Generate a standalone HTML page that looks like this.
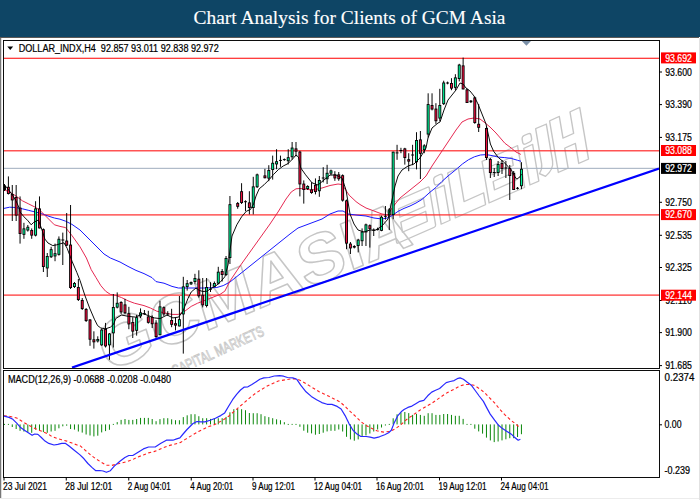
<!DOCTYPE html><html><head><meta charset="utf-8"><style>html,body{margin:0;padding:0;background:#fff;width:700px;height:500px;overflow:hidden}svg{display:block}</style></head><body>
<svg width="700" height="500" viewBox="0 0 700 500" font-family="Liberation Sans, sans-serif">
<rect x="0" y="0" width="700" height="500" fill="#fff"/>
<rect x="0" y="0" width="700" height="37" fill="#0e4565"/>
<rect x="0" y="37" width="699" height="1" fill="#5c5a58"/>
<text x="193.5" y="24.2" fill="#fff" stroke="#fff" stroke-width="0.12" font-family="Liberation Serif, serif" font-size="19" textLength="312" lengthAdjust="spacingAndGlyphs">Chart Analysis for Clients of GCM Asia</text>
<rect x="0" y="38" width="1" height="460" fill="#777"/>
<rect x="1" y="38" width="1" height="460" fill="#ddd"/>
<rect x="699" y="38" width="1" height="462" fill="#e2e2e2"/>
<rect x="0" y="498" width="699" height="1" fill="#ececec"/>
<defs><clipPath id="cm"><rect x="4" y="41" width="655" height="327"/></clipPath><clipPath id="cd"><rect x="4" y="371" width="655" height="106"/></clipPath></defs>
<g clip-path="url(#cm)">
<g transform="translate(173.6,368) rotate(-24.5)" fill="none" stroke="#c6c6c6" stroke-width="1.5" stroke-linejoin="round">
<text transform="rotate(1.8,180,-40) skewX(-6)" x="-64" y="-16" font-size="68" font-weight="bold" textLength="334" lengthAdjust="spacingAndGlyphs">GCMASIA</text>
<g transform="rotate(0.7) translate(254,-22) scale(0.97,0.82) skewX(-12)"><rect x="0" y="-50" width="44" height="48" rx="2"/><rect x="8" y="-40" width="28" height="10"/><rect x="8" y="-24" width="28" height="12"/><rect x="50" y="-58" width="10" height="10" rx="3"/><rect x="50" y="-44" width="10" height="42"/><path d="M66,-56 h12 v40 h22 v14 h-34 z"/><rect x="104" y="-52" width="40" height="50"/><rect x="112" y="-42" width="24" height="10"/><rect x="112" y="-24" width="24" height="10"/><rect x="150" y="-60" width="10" height="10" rx="3"/><rect x="150" y="-46" width="10" height="44"/><path d="M166,-62 h12 v44 q0,10 -10,14 l-6,-6 q4,-4 4,-10 z"/><path d="M182,-64 h11 v26 h12 v-26 h11 v62 h-11 v-24 h-12 v24 h-11 z"/></g>
<text x="-31" y="8" font-size="15" textLength="128" lengthAdjust="spacingAndGlyphs" stroke-width="0.9" stroke="#c8c8c8">GCM CAPITAL MARKETS</text>
</g></g>
<rect x="4" y="57.7" width="655" height="1.2" fill="#ff2a2a"/>
<rect x="4" y="150.2" width="655" height="1.2" fill="#ff2a2a"/>
<rect x="4" y="214.3" width="655" height="1.2" fill="#ff2a2a"/>
<rect x="4" y="294.5" width="655" height="1.2" fill="#ff2a2a"/>
<rect x="4" y="167.8" width="655" height="1.1" fill="#a8b4c4"/>
<g clip-path="url(#cm)" fill="none" stroke-linejoin="round">
<polyline points="3.5,208.5 9.6,207.2 16.0,207.5 22.4,208.8 28.8,210.4 35.2,212.0 41.6,213.6 48.0,216.0 54.4,218.0 60.0,219.2 65.6,221.2 72.0,224.4 80.0,230.0 88.0,238.0 96.0,246.0 104.0,254.0 110.4,258.0 120.0,262.0 128.0,266.4 136.0,270.4 144.0,273.6 152.0,277.6 156.0,281.6 164.0,283.2 172.0,286.4 178.4,288.0 188.0,288.0 204.0,288.0 216.8,287.5 223.2,285.6 230.0,282.0 240.0,274.0 250.0,266.0 260.0,258.0 270.0,250.0 280.0,242.0 290.0,234.0 298.0,228.0 306.0,225.0 314.0,222.0 322.0,219.0 330.0,214.0 338.0,211.0 343.0,211.0 348.0,214.0 356.0,215.0 366.0,216.0 374.0,218.0 382.0,219.0 387.2,218.0 392.0,215.6 398.0,211.4 404.0,208.4 410.0,206.0 416.0,203.0 422.0,199.4 428.0,194.0 430.0,192.2 436.0,187.4 442.0,181.4 448.0,176.0 454.0,171.2 457.6,168.2 462.4,164.0 468.4,159.8 474.4,156.8 480.4,155.0 486.4,154.6 492.0,155.6 498.4,157.1 504.8,157.6 511.2,158.4 517.6,160.3 521.0,161.3" stroke="#1818ff" stroke-width="1"/>
<polyline points="3.5,189.6 9.6,192.0 16.0,196.0 22.4,200.8 28.8,204.0 35.2,207.2 40.0,210.4 44.8,215.2 49.6,220.0 54.4,224.8 60.0,226.4 65.6,227.6 72.0,235.6 80.0,246.8 86.4,258.0 91.2,269.6 96.0,277.6 100.8,285.6 105.6,291.2 110.4,294.4 115.2,295.2 121.6,297.6 128.0,300.8 134.4,303.2 144.0,305.6 150.4,308.0 156.8,311.2 164.0,312.8 172.0,314.4 178.4,314.4 184.8,311.2 191.2,306.4 197.6,303.2 204.0,300.8 212.0,297.6 220.0,294.4 224.8,291.2 230.0,281.0 240.0,266.0 250.0,252.0 260.0,238.0 270.0,224.0 278.0,212.0 286.0,199.0 291.2,192.0 296.0,188.8 300.0,188.5 306.0,189.0 310.8,190.0 315.6,189.5 322.0,188.0 330.0,185.5 338.0,184.0 342.0,184.5 345.0,189.0 349.2,195.2 356.0,201.6 360.0,204.5 366.0,208.0 374.0,211.0 382.0,214.0 388.0,215.0 392.0,208.0 400.0,198.0 410.0,190.0 420.0,182.0 426.0,176.0 432.0,166.0 440.0,154.0 448.0,142.0 456.0,130.0 462.0,122.0 468.0,119.0 474.0,118.0 480.0,119.0 484.0,122.0 490.0,127.0 496.0,133.0 504.8,143.2 511.2,148.0 516.0,152.0 520.8,154.4" stroke="#e41c48" stroke-width="0.95"/>
</g>
<g clip-path="url(#cm)">
<rect x="4.01" y="184.0" width="0.97" height="7.0" fill="#000"/>
<rect x="3.04" y="185.5" width="2.92" height="4.5" fill="#000"/>
<rect x="7.90" y="176.4" width="0.97" height="18.1" fill="#000"/>
<rect x="6.93" y="186.8" width="2.92" height="7.2" fill="#000"/>
<rect x="7.79" y="187.7" width="1.2" height="5.4" fill="#ee1040"/>
<rect x="11.78" y="185.0" width="0.97" height="36.0" fill="#000"/>
<rect x="10.81" y="194.0" width="2.92" height="6.4" fill="#000"/>
<rect x="11.67" y="194.9" width="1.2" height="4.6" fill="#ee1040"/>
<rect x="15.67" y="185.0" width="0.97" height="36.0" fill="#000"/>
<rect x="14.70" y="197.0" width="2.92" height="18.6" fill="#000"/>
<rect x="15.56" y="197.9" width="1.2" height="16.8" fill="#ee1040"/>
<rect x="19.56" y="196.4" width="0.97" height="47.2" fill="#000"/>
<rect x="18.59" y="207.6" width="2.92" height="26.4" fill="#000"/>
<rect x="19.45" y="208.5" width="1.2" height="24.6" fill="#ee1040"/>
<rect x="23.44" y="222.8" width="0.97" height="16.0" fill="#000"/>
<rect x="22.47" y="228.4" width="2.92" height="6.4" fill="#000"/>
<rect x="23.33" y="229.3" width="1.2" height="4.6" fill="#00f59a"/>
<rect x="27.33" y="225.0" width="0.97" height="6.6" fill="#000"/>
<rect x="26.36" y="226.8" width="2.92" height="3.7" fill="#000"/>
<rect x="27.22" y="227.7" width="1.2" height="1.9" fill="#00f59a"/>
<rect x="31.22" y="228.4" width="0.97" height="10.4" fill="#000"/>
<rect x="30.25" y="230.0" width="2.92" height="5.6" fill="#000"/>
<rect x="31.11" y="230.9" width="1.2" height="3.8" fill="#ee1040"/>
<rect x="35.10" y="201.2" width="0.97" height="35.2" fill="#000"/>
<rect x="34.13" y="208.4" width="2.92" height="27.2" fill="#000"/>
<rect x="34.99" y="209.3" width="1.2" height="25.4" fill="#00f59a"/>
<rect x="38.99" y="196.4" width="0.97" height="32.0" fill="#000"/>
<rect x="38.02" y="208.4" width="2.92" height="20.0" fill="#000"/>
<rect x="38.88" y="209.3" width="1.2" height="18.2" fill="#ee1040"/>
<rect x="42.88" y="228.4" width="0.97" height="43.6" fill="#000"/>
<rect x="41.91" y="229.2" width="2.92" height="37.8" fill="#000"/>
<rect x="42.77" y="230.1" width="1.2" height="36.0" fill="#ee1040"/>
<rect x="46.76" y="253.0" width="0.97" height="24.0" fill="#000"/>
<rect x="45.79" y="256.0" width="2.92" height="12.4" fill="#000"/>
<rect x="46.65" y="256.9" width="1.2" height="10.6" fill="#00f59a"/>
<rect x="50.65" y="246.8" width="0.97" height="11.2" fill="#000"/>
<rect x="49.68" y="249.2" width="2.92" height="8.0" fill="#000"/>
<rect x="50.54" y="250.1" width="1.2" height="6.2" fill="#00f59a"/>
<rect x="54.54" y="243.6" width="0.97" height="17.6" fill="#000"/>
<rect x="53.57" y="253.2" width="2.92" height="3.2" fill="#000"/>
<rect x="54.43" y="254.1" width="1.2" height="1.4" fill="#00f59a"/>
<rect x="58.42" y="236.4" width="0.97" height="19.2" fill="#000"/>
<rect x="57.45" y="238.8" width="2.92" height="16.0" fill="#000"/>
<rect x="58.31" y="239.7" width="1.2" height="14.2" fill="#00f59a"/>
<rect x="62.31" y="232.6" width="0.97" height="32.4" fill="#000"/>
<rect x="61.34" y="239.5" width="2.92" height="1" fill="#000"/>
<rect x="66.20" y="213.0" width="0.97" height="33.0" fill="#000"/>
<rect x="65.23" y="240.6" width="2.92" height="5.0" fill="#000"/>
<rect x="66.09" y="241.5" width="1.2" height="3.2" fill="#ee1040"/>
<rect x="70.08" y="205.0" width="0.97" height="84.0" fill="#000"/>
<rect x="69.11" y="244.6" width="2.92" height="43.4" fill="#000"/>
<rect x="69.97" y="245.5" width="1.2" height="41.6" fill="#ee1040"/>
<rect x="73.97" y="282.0" width="0.97" height="6.0" fill="#000"/>
<rect x="73.00" y="283.0" width="2.92" height="4.0" fill="#000"/>
<rect x="73.86" y="283.9" width="1.2" height="2.2" fill="#00f59a"/>
<rect x="77.86" y="279.0" width="0.97" height="22.0" fill="#000"/>
<rect x="76.89" y="287.0" width="2.92" height="13.0" fill="#000"/>
<rect x="77.75" y="287.9" width="1.2" height="11.2" fill="#ee1040"/>
<rect x="81.74" y="298.0" width="0.97" height="12.0" fill="#000"/>
<rect x="80.77" y="300.0" width="2.92" height="9.0" fill="#000"/>
<rect x="81.63" y="300.9" width="1.2" height="7.2" fill="#ee1040"/>
<rect x="85.63" y="308.0" width="0.97" height="14.0" fill="#000"/>
<rect x="84.66" y="309.0" width="2.92" height="12.0" fill="#000"/>
<rect x="85.52" y="309.9" width="1.2" height="10.2" fill="#ee1040"/>
<rect x="89.52" y="319.0" width="0.97" height="26.8" fill="#000"/>
<rect x="88.55" y="319.5" width="2.92" height="20.2" fill="#000"/>
<rect x="89.41" y="320.4" width="1.2" height="18.4" fill="#ee1040"/>
<rect x="93.40" y="331.3" width="0.97" height="17.3" fill="#000"/>
<rect x="92.43" y="339.3" width="2.92" height="3.0" fill="#000"/>
<rect x="93.29" y="340.2" width="1.2" height="1.2" fill="#ee1040"/>
<rect x="97.29" y="336.3" width="0.97" height="6.2" fill="#000"/>
<rect x="96.32" y="339.0" width="2.92" height="2.4" fill="#000"/>
<rect x="97.18" y="339.9" width="1.2" height="0.6" fill="#00f59a"/>
<rect x="101.18" y="328.5" width="0.97" height="17.3" fill="#000"/>
<rect x="100.21" y="329.6" width="2.92" height="15.7" fill="#000"/>
<rect x="101.07" y="330.5" width="1.2" height="13.9" fill="#00f59a"/>
<rect x="105.06" y="322.9" width="0.97" height="24.6" fill="#000"/>
<rect x="104.09" y="329.0" width="2.92" height="17.4" fill="#000"/>
<rect x="104.95" y="329.9" width="1.2" height="15.6" fill="#ee1040"/>
<rect x="108.95" y="333.0" width="0.97" height="26.8" fill="#000"/>
<rect x="107.98" y="333.5" width="2.92" height="11.8" fill="#000"/>
<rect x="108.84" y="334.4" width="1.2" height="10.0" fill="#00f59a"/>
<rect x="112.84" y="294.0" width="0.97" height="53.5" fill="#000"/>
<rect x="111.87" y="307.0" width="2.92" height="26.3" fill="#000"/>
<rect x="112.73" y="307.9" width="1.2" height="24.5" fill="#00f59a"/>
<rect x="116.72" y="292.4" width="0.97" height="16.0" fill="#000"/>
<rect x="115.75" y="302.8" width="2.92" height="4.8" fill="#000"/>
<rect x="116.61" y="303.7" width="1.2" height="3.0" fill="#00f59a"/>
<rect x="120.61" y="301.2" width="0.97" height="12.8" fill="#000"/>
<rect x="119.64" y="302.0" width="2.92" height="10.4" fill="#000"/>
<rect x="120.50" y="302.9" width="1.2" height="8.6" fill="#ee1040"/>
<rect x="124.50" y="298.8" width="0.97" height="15.2" fill="#000"/>
<rect x="123.53" y="304.4" width="2.92" height="8.8" fill="#000"/>
<rect x="124.39" y="305.3" width="1.2" height="7.0" fill="#ee1040"/>
<rect x="128.38" y="306.8" width="0.97" height="22.4" fill="#000"/>
<rect x="127.41" y="313.2" width="2.92" height="11.2" fill="#000"/>
<rect x="128.27" y="314.1" width="1.2" height="9.4" fill="#ee1040"/>
<rect x="132.27" y="317.2" width="0.97" height="20.8" fill="#000"/>
<rect x="131.30" y="322.0" width="2.92" height="9.6" fill="#000"/>
<rect x="132.16" y="322.9" width="1.2" height="7.8" fill="#ee1040"/>
<rect x="136.16" y="314.8" width="0.97" height="20.8" fill="#000"/>
<rect x="135.19" y="317.2" width="2.92" height="13.6" fill="#000"/>
<rect x="136.05" y="318.1" width="1.2" height="11.8" fill="#00f59a"/>
<rect x="140.04" y="308.4" width="0.97" height="9.6" fill="#000"/>
<rect x="139.07" y="312.4" width="2.92" height="4.0" fill="#000"/>
<rect x="139.93" y="313.3" width="1.2" height="2.2" fill="#00f59a"/>
<rect x="143.93" y="310.0" width="0.97" height="4.8" fill="#000"/>
<rect x="142.96" y="313.2" width="2.92" height="1" fill="#000"/>
<rect x="147.82" y="310.8" width="0.97" height="12.8" fill="#000"/>
<rect x="146.85" y="316.4" width="2.92" height="6.4" fill="#000"/>
<rect x="147.71" y="317.3" width="1.2" height="4.6" fill="#ee1040"/>
<rect x="151.70" y="315.4" width="0.97" height="12.6" fill="#000"/>
<rect x="150.73" y="317.0" width="2.92" height="7.2" fill="#000"/>
<rect x="151.59" y="317.9" width="1.2" height="5.4" fill="#ee1040"/>
<rect x="155.59" y="320.2" width="0.97" height="19.2" fill="#000"/>
<rect x="154.62" y="322.6" width="2.92" height="14.4" fill="#000"/>
<rect x="155.48" y="323.5" width="1.2" height="12.6" fill="#ee1040"/>
<rect x="159.48" y="300.8" width="0.97" height="34.4" fill="#000"/>
<rect x="158.51" y="306.4" width="2.92" height="28.8" fill="#000"/>
<rect x="159.37" y="307.3" width="1.2" height="27.0" fill="#00f59a"/>
<rect x="163.36" y="306.4" width="0.97" height="9.6" fill="#000"/>
<rect x="162.39" y="307.2" width="2.92" height="7.2" fill="#000"/>
<rect x="163.25" y="308.1" width="1.2" height="5.4" fill="#ee1040"/>
<rect x="167.25" y="311.2" width="0.97" height="4.8" fill="#000"/>
<rect x="166.28" y="313.5" width="2.92" height="1" fill="#000"/>
<rect x="171.14" y="308.8" width="0.97" height="18.4" fill="#000"/>
<rect x="170.17" y="320.0" width="2.92" height="4.8" fill="#000"/>
<rect x="171.03" y="320.9" width="1.2" height="3.0" fill="#ee1040"/>
<rect x="175.02" y="317.6" width="0.97" height="12.8" fill="#000"/>
<rect x="174.05" y="323.2" width="2.92" height="2.4" fill="#000"/>
<rect x="174.91" y="324.1" width="1.2" height="0.6" fill="#ee1040"/>
<rect x="178.91" y="296.0" width="0.97" height="30.4" fill="#000"/>
<rect x="177.94" y="319.2" width="2.92" height="7.2" fill="#000"/>
<rect x="178.80" y="320.1" width="1.2" height="5.4" fill="#00f59a"/>
<rect x="182.80" y="276.8" width="0.97" height="76.8" fill="#000"/>
<rect x="181.83" y="286.4" width="2.92" height="28.0" fill="#000"/>
<rect x="182.69" y="287.3" width="1.2" height="26.2" fill="#00f59a"/>
<rect x="186.68" y="280.0" width="0.97" height="10.6" fill="#000"/>
<rect x="185.71" y="283.2" width="2.92" height="3.8" fill="#000"/>
<rect x="186.57" y="284.1" width="1.2" height="2.0" fill="#00f59a"/>
<rect x="190.57" y="281.5" width="0.97" height="3.5" fill="#000"/>
<rect x="189.60" y="282.0" width="2.92" height="2.3" fill="#000"/>
<rect x="190.46" y="282.9" width="1.2" height="0.5" fill="#00f59a"/>
<rect x="194.46" y="273.8" width="0.97" height="10.5" fill="#000"/>
<rect x="193.49" y="278.0" width="2.92" height="4.0" fill="#000"/>
<rect x="194.35" y="278.9" width="1.2" height="2.2" fill="#00f59a"/>
<rect x="198.34" y="270.3" width="0.97" height="27.3" fill="#000"/>
<rect x="197.37" y="278.7" width="2.92" height="17.5" fill="#000"/>
<rect x="198.23" y="279.6" width="1.2" height="15.7" fill="#ee1040"/>
<rect x="202.23" y="278.0" width="0.97" height="29.4" fill="#000"/>
<rect x="201.26" y="294.8" width="2.92" height="10.5" fill="#000"/>
<rect x="202.12" y="295.7" width="1.2" height="8.7" fill="#ee1040"/>
<rect x="206.12" y="278.0" width="0.97" height="29.4" fill="#000"/>
<rect x="205.15" y="287.0" width="2.92" height="19.0" fill="#000"/>
<rect x="206.01" y="287.9" width="1.2" height="17.2" fill="#00f59a"/>
<rect x="210.01" y="282.2" width="0.97" height="9.8" fill="#000"/>
<rect x="209.04" y="288.7" width="2.92" height="1" fill="#000"/>
<rect x="213.89" y="281.5" width="0.97" height="5.5" fill="#000"/>
<rect x="212.92" y="283.0" width="2.92" height="3.7" fill="#000"/>
<rect x="213.78" y="283.9" width="1.2" height="1.9" fill="#00f59a"/>
<rect x="217.78" y="266.8" width="0.97" height="17.5" fill="#000"/>
<rect x="216.81" y="271.7" width="2.92" height="11.9" fill="#000"/>
<rect x="217.67" y="272.6" width="1.2" height="10.1" fill="#00f59a"/>
<rect x="221.67" y="269.0" width="0.97" height="12.5" fill="#000"/>
<rect x="220.70" y="271.0" width="2.92" height="4.0" fill="#000"/>
<rect x="221.56" y="271.9" width="1.2" height="2.2" fill="#ee1040"/>
<rect x="225.55" y="256.0" width="0.97" height="20.0" fill="#000"/>
<rect x="224.58" y="258.0" width="2.92" height="17.0" fill="#000"/>
<rect x="225.44" y="258.9" width="1.2" height="15.2" fill="#00f59a"/>
<rect x="229.44" y="196.0" width="0.97" height="68.0" fill="#000"/>
<rect x="228.47" y="204.2" width="2.92" height="53.8" fill="#000"/>
<rect x="229.33" y="205.1" width="1.2" height="52.0" fill="#00f59a"/>
<rect x="237.21" y="202.0" width="0.97" height="6.7" fill="#000"/>
<rect x="236.24" y="203.0" width="2.92" height="3.8" fill="#000"/>
<rect x="237.10" y="203.9" width="1.2" height="2.0" fill="#ee1040"/>
<rect x="241.10" y="183.2" width="0.97" height="20.8" fill="#000"/>
<rect x="240.13" y="191.2" width="2.92" height="11.8" fill="#000"/>
<rect x="240.99" y="192.1" width="1.2" height="10.0" fill="#ee1040"/>
<rect x="244.99" y="200.3" width="0.97" height="10.9" fill="#000"/>
<rect x="244.02" y="201.2" width="2.92" height="1" fill="#000"/>
<rect x="248.87" y="191.2" width="0.97" height="23.2" fill="#000"/>
<rect x="247.90" y="202.4" width="2.92" height="5.6" fill="#000"/>
<rect x="248.76" y="203.3" width="1.2" height="3.8" fill="#ee1040"/>
<rect x="252.76" y="176.8" width="0.97" height="37.6" fill="#000"/>
<rect x="251.79" y="186.4" width="2.92" height="21.6" fill="#000"/>
<rect x="252.65" y="187.3" width="1.2" height="19.8" fill="#00f59a"/>
<rect x="256.65" y="173.6" width="0.97" height="14.4" fill="#000"/>
<rect x="255.68" y="174.4" width="2.92" height="12.8" fill="#000"/>
<rect x="256.54" y="175.3" width="1.2" height="11.0" fill="#00f59a"/>
<rect x="264.42" y="168.8" width="0.97" height="9.6" fill="#000"/>
<rect x="263.45" y="175.4" width="2.92" height="2.8" fill="#000"/>
<rect x="264.31" y="176.3" width="1.2" height="1.0" fill="#ee1040"/>
<rect x="268.31" y="165.2" width="0.97" height="16.0" fill="#000"/>
<rect x="267.34" y="170.0" width="2.92" height="8.6" fill="#000"/>
<rect x="268.20" y="170.9" width="1.2" height="6.8" fill="#00f59a"/>
<rect x="272.19" y="155.6" width="0.97" height="24.0" fill="#000"/>
<rect x="271.22" y="162.8" width="2.92" height="7.2" fill="#000"/>
<rect x="272.08" y="163.7" width="1.2" height="5.4" fill="#00f59a"/>
<rect x="276.08" y="149.2" width="0.97" height="20.0" fill="#000"/>
<rect x="275.11" y="161.2" width="2.92" height="3.2" fill="#000"/>
<rect x="275.97" y="162.1" width="1.2" height="1.4" fill="#00f59a"/>
<rect x="279.97" y="155.6" width="0.97" height="11.2" fill="#000"/>
<rect x="279.00" y="159.9" width="2.92" height="1" fill="#000"/>
<rect x="283.85" y="158.5" width="0.97" height="2.3" fill="#000"/>
<rect x="282.88" y="159.1" width="2.92" height="1" fill="#000"/>
<rect x="287.74" y="149.2" width="0.97" height="15.2" fill="#000"/>
<rect x="286.77" y="157.2" width="2.92" height="4.0" fill="#000"/>
<rect x="287.63" y="158.1" width="1.2" height="2.2" fill="#00f59a"/>
<rect x="291.63" y="142.0" width="0.97" height="17.6" fill="#000"/>
<rect x="290.66" y="147.6" width="2.92" height="9.6" fill="#000"/>
<rect x="291.52" y="148.5" width="1.2" height="7.8" fill="#00f59a"/>
<rect x="295.51" y="142.0" width="0.97" height="14.4" fill="#000"/>
<rect x="294.54" y="148.4" width="2.92" height="3.2" fill="#000"/>
<rect x="295.40" y="149.3" width="1.2" height="1.4" fill="#ee1040"/>
<rect x="299.40" y="150.8" width="0.97" height="45.6" fill="#000"/>
<rect x="298.43" y="151.6" width="2.92" height="32.8" fill="#000"/>
<rect x="299.29" y="152.5" width="1.2" height="31.0" fill="#ee1040"/>
<rect x="303.29" y="180.4" width="0.97" height="23.2" fill="#000"/>
<rect x="302.32" y="183.6" width="2.92" height="6.4" fill="#000"/>
<rect x="303.18" y="184.5" width="1.2" height="4.6" fill="#ee1040"/>
<rect x="307.17" y="185.2" width="0.97" height="4.8" fill="#000"/>
<rect x="306.20" y="186.0" width="2.92" height="3.0" fill="#000"/>
<rect x="307.06" y="186.9" width="1.2" height="1.2" fill="#00f59a"/>
<rect x="311.06" y="182.2" width="0.97" height="11.6" fill="#000"/>
<rect x="310.09" y="189.4" width="2.92" height="3.6" fill="#000"/>
<rect x="310.95" y="190.3" width="1.2" height="1.8" fill="#ee1040"/>
<rect x="314.95" y="178.4" width="0.97" height="16.0" fill="#000"/>
<rect x="313.98" y="184.8" width="2.92" height="7.2" fill="#000"/>
<rect x="314.84" y="185.7" width="1.2" height="5.4" fill="#ee1040"/>
<rect x="318.83" y="176.0" width="0.97" height="20.8" fill="#000"/>
<rect x="317.86" y="180.0" width="2.92" height="11.2" fill="#000"/>
<rect x="318.72" y="180.9" width="1.2" height="9.4" fill="#00f59a"/>
<rect x="322.72" y="167.2" width="0.97" height="15.2" fill="#000"/>
<rect x="321.75" y="177.5" width="2.92" height="1" fill="#000"/>
<rect x="326.61" y="164.8" width="0.97" height="19.2" fill="#000"/>
<rect x="325.64" y="172.8" width="2.92" height="6.4" fill="#000"/>
<rect x="326.50" y="173.7" width="1.2" height="4.6" fill="#00f59a"/>
<rect x="330.49" y="169.6" width="0.97" height="5.6" fill="#000"/>
<rect x="329.52" y="170.4" width="2.92" height="3.2" fill="#000"/>
<rect x="330.38" y="171.3" width="1.2" height="1.4" fill="#00f59a"/>
<rect x="334.38" y="171.2" width="0.97" height="9.6" fill="#000"/>
<rect x="333.41" y="174.4" width="2.92" height="4.0" fill="#000"/>
<rect x="334.27" y="175.3" width="1.2" height="2.2" fill="#ee1040"/>
<rect x="338.27" y="172.0" width="0.97" height="8.8" fill="#000"/>
<rect x="337.30" y="174.4" width="2.92" height="4.8" fill="#000"/>
<rect x="338.16" y="175.3" width="1.2" height="3.0" fill="#ee1040"/>
<rect x="342.15" y="174.4" width="0.97" height="27.2" fill="#000"/>
<rect x="341.18" y="175.2" width="2.92" height="25.4" fill="#000"/>
<rect x="342.04" y="176.1" width="1.2" height="23.6" fill="#ee1040"/>
<rect x="346.04" y="199.6" width="0.97" height="49.6" fill="#000"/>
<rect x="345.07" y="200.4" width="2.92" height="43.2" fill="#000"/>
<rect x="345.93" y="201.3" width="1.2" height="41.4" fill="#ee1040"/>
<rect x="349.93" y="242.0" width="0.97" height="12.0" fill="#000"/>
<rect x="348.96" y="243.6" width="2.92" height="4.8" fill="#000"/>
<rect x="349.82" y="244.5" width="1.2" height="3.0" fill="#ee1040"/>
<rect x="353.81" y="245.2" width="0.97" height="3.2" fill="#000"/>
<rect x="352.84" y="246.0" width="2.92" height="1.6" fill="#000"/>
<rect x="357.70" y="238.8" width="0.97" height="13.6" fill="#000"/>
<rect x="356.73" y="239.6" width="2.92" height="6.4" fill="#000"/>
<rect x="357.59" y="240.5" width="1.2" height="4.6" fill="#00f59a"/>
<rect x="361.59" y="228.4" width="0.97" height="17.6" fill="#000"/>
<rect x="360.62" y="231.6" width="2.92" height="9.6" fill="#000"/>
<rect x="361.48" y="232.5" width="1.2" height="7.8" fill="#00f59a"/>
<rect x="365.47" y="223.6" width="0.97" height="22.4" fill="#000"/>
<rect x="364.50" y="224.4" width="2.92" height="8.0" fill="#000"/>
<rect x="365.36" y="225.3" width="1.2" height="6.2" fill="#00f59a"/>
<rect x="369.36" y="224.4" width="0.97" height="23.2" fill="#000"/>
<rect x="368.39" y="225.2" width="2.92" height="4.0" fill="#000"/>
<rect x="369.25" y="226.1" width="1.2" height="2.2" fill="#ee1040"/>
<rect x="373.25" y="228.4" width="0.97" height="7.6" fill="#000"/>
<rect x="372.28" y="229.9" width="2.92" height="1" fill="#000"/>
<rect x="377.13" y="227.6" width="0.97" height="2.9" fill="#000"/>
<rect x="376.16" y="228.9" width="2.92" height="1" fill="#000"/>
<rect x="381.02" y="215.6" width="0.97" height="15.6" fill="#000"/>
<rect x="380.05" y="216.8" width="2.92" height="14.0" fill="#000"/>
<rect x="380.91" y="217.7" width="1.2" height="12.2" fill="#00f59a"/>
<rect x="384.91" y="206.0" width="0.97" height="13.6" fill="#000"/>
<rect x="383.94" y="215.8" width="2.92" height="1" fill="#000"/>
<rect x="388.79" y="208.0" width="0.97" height="22.0" fill="#000"/>
<rect x="387.82" y="209.4" width="2.92" height="5.8" fill="#000"/>
<rect x="388.68" y="210.3" width="1.2" height="4.0" fill="#00f59a"/>
<rect x="392.68" y="151.7" width="0.97" height="67.5" fill="#000"/>
<rect x="391.71" y="151.7" width="2.92" height="63.3" fill="#000"/>
<rect x="392.57" y="152.6" width="1.2" height="61.5" fill="#00f59a"/>
<rect x="396.57" y="144.8" width="0.97" height="15.0" fill="#000"/>
<rect x="395.60" y="152.4" width="2.92" height="1" fill="#000"/>
<rect x="400.45" y="147.8" width="0.97" height="5.4" fill="#000"/>
<rect x="399.48" y="150.0" width="2.92" height="1" fill="#000"/>
<rect x="404.34" y="147.8" width="0.97" height="16.8" fill="#000"/>
<rect x="403.37" y="148.4" width="2.92" height="9.6" fill="#000"/>
<rect x="404.23" y="149.3" width="1.2" height="7.8" fill="#ee1040"/>
<rect x="408.23" y="153.2" width="0.97" height="18.0" fill="#000"/>
<rect x="407.26" y="159.2" width="2.92" height="2.4" fill="#000"/>
<rect x="408.12" y="160.1" width="1.2" height="0.6" fill="#ee1040"/>
<rect x="412.11" y="144.8" width="0.97" height="20.4" fill="#000"/>
<rect x="411.14" y="154.5" width="2.92" height="1" fill="#000"/>
<rect x="416.00" y="132.2" width="0.97" height="37.2" fill="#000"/>
<rect x="415.03" y="140.0" width="2.92" height="22.2" fill="#000"/>
<rect x="415.89" y="140.9" width="1.2" height="20.4" fill="#00f59a"/>
<rect x="419.89" y="131.0" width="0.97" height="48.0" fill="#000"/>
<rect x="418.92" y="139.4" width="2.92" height="14.4" fill="#000"/>
<rect x="419.78" y="140.3" width="1.2" height="12.6" fill="#ee1040"/>
<rect x="423.77" y="144.2" width="0.97" height="9.0" fill="#000"/>
<rect x="422.80" y="145.4" width="2.92" height="4.8" fill="#000"/>
<rect x="423.66" y="146.3" width="1.2" height="3.0" fill="#00f59a"/>
<rect x="427.66" y="93.3" width="0.97" height="44.1" fill="#000"/>
<rect x="426.69" y="104.1" width="2.92" height="30.4" fill="#000"/>
<rect x="427.55" y="105.0" width="1.2" height="28.6" fill="#00f59a"/>
<rect x="431.55" y="93.3" width="0.97" height="17.1" fill="#000"/>
<rect x="430.58" y="105.0" width="2.92" height="4.5" fill="#000"/>
<rect x="431.44" y="105.9" width="1.2" height="2.7" fill="#ee1040"/>
<rect x="435.43" y="103.2" width="0.97" height="20.7" fill="#000"/>
<rect x="434.46" y="108.6" width="2.92" height="12.6" fill="#000"/>
<rect x="435.32" y="109.5" width="1.2" height="10.8" fill="#ee1040"/>
<rect x="439.32" y="88.8" width="0.97" height="32.4" fill="#000"/>
<rect x="438.35" y="105.0" width="2.92" height="13.5" fill="#000"/>
<rect x="439.21" y="105.9" width="1.2" height="11.7" fill="#00f59a"/>
<rect x="443.21" y="80.7" width="0.97" height="24.3" fill="#000"/>
<rect x="442.24" y="82.5" width="2.92" height="21.6" fill="#000"/>
<rect x="443.10" y="83.4" width="1.2" height="19.8" fill="#00f59a"/>
<rect x="447.09" y="81.6" width="0.97" height="2.7" fill="#000"/>
<rect x="446.12" y="82.5" width="2.92" height="1" fill="#000"/>
<rect x="450.98" y="78.2" width="0.97" height="12.0" fill="#000"/>
<rect x="450.01" y="83.0" width="2.92" height="5.6" fill="#000"/>
<rect x="450.87" y="83.9" width="1.2" height="3.8" fill="#ee1040"/>
<rect x="454.87" y="74.2" width="0.97" height="16.0" fill="#000"/>
<rect x="453.90" y="77.4" width="2.92" height="10.4" fill="#000"/>
<rect x="454.76" y="78.3" width="1.2" height="8.6" fill="#00f59a"/>
<rect x="458.75" y="63.8" width="0.97" height="17.6" fill="#000"/>
<rect x="457.78" y="64.6" width="2.92" height="14.4" fill="#000"/>
<rect x="458.64" y="65.5" width="1.2" height="12.6" fill="#00f59a"/>
<rect x="462.64" y="57.6" width="0.97" height="31.8" fill="#000"/>
<rect x="461.67" y="65.4" width="2.92" height="24.0" fill="#000"/>
<rect x="462.53" y="66.3" width="1.2" height="22.2" fill="#ee1040"/>
<rect x="466.53" y="88.6" width="0.97" height="14.4" fill="#000"/>
<rect x="465.56" y="89.4" width="2.92" height="13.6" fill="#000"/>
<rect x="466.42" y="90.3" width="1.2" height="11.8" fill="#ee1040"/>
<rect x="470.41" y="100.0" width="0.97" height="3.0" fill="#000"/>
<rect x="469.44" y="100.6" width="2.92" height="1.6" fill="#000"/>
<rect x="474.30" y="96.6" width="0.97" height="27.2" fill="#000"/>
<rect x="473.33" y="97.4" width="2.92" height="25.6" fill="#000"/>
<rect x="474.19" y="98.3" width="1.2" height="23.8" fill="#ee1040"/>
<rect x="478.19" y="104.0" width="0.97" height="28.0" fill="#000"/>
<rect x="477.22" y="123.8" width="2.92" height="4.0" fill="#000"/>
<rect x="478.08" y="124.7" width="1.2" height="2.2" fill="#ee1040"/>
<rect x="485.96" y="126.0" width="0.97" height="34.0" fill="#000"/>
<rect x="484.99" y="128.0" width="2.92" height="30.0" fill="#000"/>
<rect x="485.85" y="128.9" width="1.2" height="28.2" fill="#ee1040"/>
<rect x="489.85" y="158.0" width="0.97" height="20.0" fill="#000"/>
<rect x="488.88" y="159.0" width="2.92" height="14.0" fill="#000"/>
<rect x="489.74" y="159.9" width="1.2" height="12.2" fill="#ee1040"/>
<rect x="493.73" y="168.0" width="0.97" height="9.0" fill="#000"/>
<rect x="492.76" y="172.0" width="2.92" height="1" fill="#000"/>
<rect x="497.62" y="161.0" width="0.97" height="15.0" fill="#000"/>
<rect x="496.65" y="164.0" width="2.92" height="9.0" fill="#000"/>
<rect x="497.51" y="164.9" width="1.2" height="7.2" fill="#00f59a"/>
<rect x="501.51" y="160.0" width="0.97" height="14.0" fill="#000"/>
<rect x="500.54" y="163.0" width="2.92" height="6.0" fill="#000"/>
<rect x="501.40" y="163.9" width="1.2" height="4.2" fill="#ee1040"/>
<rect x="505.39" y="161.0" width="0.97" height="17.0" fill="#000"/>
<rect x="504.42" y="167.5" width="2.92" height="1" fill="#000"/>
<rect x="509.28" y="165.0" width="0.97" height="35.0" fill="#000"/>
<rect x="508.31" y="168.0" width="2.92" height="8.0" fill="#000"/>
<rect x="509.17" y="168.9" width="1.2" height="6.2" fill="#ee1040"/>
<rect x="513.17" y="171.0" width="0.97" height="19.0" fill="#000"/>
<rect x="512.20" y="173.0" width="2.92" height="17.0" fill="#000"/>
<rect x="513.06" y="173.9" width="1.2" height="15.2" fill="#ee1040"/>
<rect x="517.05" y="187.0" width="0.97" height="2.5" fill="#000"/>
<rect x="516.08" y="187.8" width="2.92" height="1" fill="#000"/>
<rect x="520.94" y="162.2" width="0.97" height="27.0" fill="#000"/>
<rect x="519.97" y="168.8" width="2.92" height="17.4" fill="#000"/>
<rect x="520.83" y="169.7" width="1.2" height="15.6" fill="#00f59a"/>
</g>
<g clip-path="url(#cm)" fill="none">
<polyline points="3.5,184.0 7.2,188.0 12.0,194.4 16.0,200.8 19.2,208.0 20.0,212.0 24.0,216.8 28.0,220.8 31.2,224.8 33.6,222.4 38.4,220.0 42.4,231.0 44.8,239.0 48.0,243.0 52.8,245.6 56.8,244.8 60.8,243.6 64.0,242.8 67.2,248.4 72.0,261.2 76.8,272.4 80.0,280.4 84.8,295.2 89.6,308.0 94.4,319.2 97.6,325.6 100.8,328.0 105.6,328.8 110.4,327.2 113.6,324.3 115.7,318.6 121.4,315.0 128.6,316.4 135.7,317.1 142.9,313.6 148.6,315.7 154.3,317.9 160.0,318.6 167.1,315.0 172.9,317.9 178.6,317.1 182.9,311.4 184.8,306.4 188.0,298.4 191.2,292.0 196.0,288.0 199.2,290.4 203.0,291.5 207.2,291.2 210.4,288.8 215.2,286.4 220.0,282.4 224.8,276.8 228.0,265.0 232.0,236.0 236.8,224.8 241.6,216.8 246.4,211.2 250.4,209.6 253.6,204.0 256.0,196.0 259.2,188.8 264.0,184.8 268.8,180.0 273.6,174.4 278.4,169.6 283.2,166.0 288.0,163.6 292.8,158.8 296.0,155.0 298.4,157.0 300.8,168.0 305.6,174.8 312.0,182.8 318.0,185.0 324.0,180.0 330.0,175.0 336.0,175.0 342.0,178.0 346.0,190.0 350.0,214.0 354.0,224.0 358.0,230.0 364.0,232.0 370.0,230.0 376.0,230.0 382.0,226.0 388.0,219.0 392.0,200.0 395.0,186.0 398.0,176.0 402.0,170.0 408.0,166.0 414.0,164.0 420.0,158.0 426.0,148.0 428.0,138.0 432.0,128.0 438.0,123.0 440.0,122.0 444.0,110.0 448.0,100.0 452.0,95.0 456.0,90.0 460.0,83.0 463.0,84.0 466.0,88.0 470.0,91.0 474.0,96.0 478.0,104.0 482.0,114.0 486.0,124.0 490.4,144.0 493.6,151.2 498.4,157.6 503.2,161.6 508.0,166.4 511.2,169.6 514.4,176.0 516.8,179.2 520.0,176.8 521.4,174.0" stroke="#000" stroke-width="0.95"/>
<line x1="72" y1="367.6" x2="659" y2="168.6" stroke="#0000ff" stroke-width="2.2"/>
</g>
<polygon points="521.8,41 531,41 526.4,45.8" fill="#7b90a8"/>
<rect x="3.5" y="40.5" width="656" height="328" fill="none" stroke="#000" stroke-width="0.95"/>
<rect x="3.5" y="370.5" width="656" height="107" fill="none" stroke="#000" stroke-width="0.95"/>
<polygon points="7.3,46.5 13.2,46.5 10.25,50" fill="#000"/>
<text x="18.7" y="52.3" font-size="10" fill="#000" stroke="#000" stroke-width="0.22" textLength="200" lengthAdjust="spacingAndGlyphs">DOLLAR_INDX,H4&#160; 92.857 93.011 92.838 92.972</text>
<rect x="659" y="71.5" width="3" height="1" fill="#000"/>
<text x="665.2" y="75.6" font-size="10" fill="#000" stroke="#000" stroke-width="0.22" textLength="26.7" lengthAdjust="spacingAndGlyphs">93.600</text>
<rect x="659" y="104.1" width="3" height="1" fill="#000"/>
<text x="665.2" y="108.2" font-size="10" fill="#000" stroke="#000" stroke-width="0.22" textLength="26.7" lengthAdjust="spacingAndGlyphs">93.390</text>
<rect x="659" y="136.9" width="3" height="1" fill="#000"/>
<text x="665.2" y="141.0" font-size="10" fill="#000" stroke="#000" stroke-width="0.22" textLength="26.7" lengthAdjust="spacingAndGlyphs">93.175</text>
<rect x="659" y="201.8" width="3" height="1" fill="#000"/>
<text x="665.2" y="205.9" font-size="10" fill="#000" stroke="#000" stroke-width="0.22" textLength="26.7" lengthAdjust="spacingAndGlyphs">92.750</text>
<rect x="659" y="234.8" width="3" height="1" fill="#000"/>
<text x="665.2" y="238.9" font-size="10" fill="#000" stroke="#000" stroke-width="0.22" textLength="26.7" lengthAdjust="spacingAndGlyphs">92.535</text>
<rect x="659" y="267.0" width="3" height="1" fill="#000"/>
<text x="665.2" y="271.1" font-size="10" fill="#000" stroke="#000" stroke-width="0.22" textLength="26.7" lengthAdjust="spacingAndGlyphs">92.325</text>
<rect x="659" y="300.0" width="3" height="1" fill="#000"/>
<text x="665.2" y="304.1" font-size="10" fill="#000" stroke="#000" stroke-width="0.22" textLength="26.7" lengthAdjust="spacingAndGlyphs">92.110</text>
<rect x="659" y="332.1" width="3" height="1" fill="#000"/>
<text x="665.2" y="336.2" font-size="10" fill="#000" stroke="#000" stroke-width="0.22" textLength="26.7" lengthAdjust="spacingAndGlyphs">91.900</text>
<rect x="659" y="365.1" width="3" height="1" fill="#000"/>
<text x="665.2" y="369.2" font-size="10" fill="#000" stroke="#000" stroke-width="0.22" textLength="26.7" lengthAdjust="spacingAndGlyphs">91.685</text>
<rect x="661" y="52.4" width="35" height="11" fill="#ff0000"/>
<text x="665.2" y="61.5" font-size="10" fill="#fff" stroke="#fff" stroke-width="0.22" textLength="26.7" lengthAdjust="spacingAndGlyphs">93.692</text>
<rect x="661" y="145.0" width="35" height="11" fill="#ff0000"/>
<text x="665.2" y="154.1" font-size="10" fill="#fff" stroke="#fff" stroke-width="0.22" textLength="26.7" lengthAdjust="spacingAndGlyphs">93.088</text>
<rect x="661" y="162.9" width="35" height="11" fill="#000"/>
<text x="665.2" y="172.0" font-size="10" fill="#fff" stroke="#fff" stroke-width="0.22" textLength="26.7" lengthAdjust="spacingAndGlyphs">92.972</text>
<rect x="661" y="209.1" width="35" height="11" fill="#ff0000"/>
<text x="665.2" y="218.2" font-size="10" fill="#fff" stroke="#fff" stroke-width="0.22" textLength="26.7" lengthAdjust="spacingAndGlyphs">92.670</text>
<rect x="661" y="289.7" width="35" height="11" fill="#ff0000"/>
<text x="665.2" y="298.8" font-size="10" fill="#fff" stroke="#fff" stroke-width="0.22" textLength="26.7" lengthAdjust="spacingAndGlyphs">92.144</text>
<g clip-path="url(#cd)">
<rect x="4.00" y="423.9" width="1" height="1" fill="#0a870a"/>
<rect x="7.89" y="423.9" width="1" height="1" fill="#0a870a"/>
<rect x="11.77" y="424.4" width="1" height="2.6" fill="#0a870a"/>
<rect x="15.66" y="424.4" width="1" height="4.6" fill="#0a870a"/>
<rect x="19.55" y="424.4" width="1" height="6.4" fill="#0a870a"/>
<rect x="23.43" y="424.4" width="1" height="7.1" fill="#0a870a"/>
<rect x="27.32" y="424.4" width="1" height="7.7" fill="#0a870a"/>
<rect x="31.21" y="424.4" width="1" height="8.4" fill="#0a870a"/>
<rect x="35.09" y="424.4" width="1" height="5.2" fill="#0a870a"/>
<rect x="38.98" y="424.4" width="1" height="5.8" fill="#0a870a"/>
<rect x="42.87" y="424.4" width="1" height="7.7" fill="#0a870a"/>
<rect x="46.75" y="424.4" width="1" height="8.4" fill="#0a870a"/>
<rect x="50.64" y="424.4" width="1" height="7.1" fill="#0a870a"/>
<rect x="54.53" y="424.4" width="1" height="6.4" fill="#0a870a"/>
<rect x="58.41" y="424.4" width="1" height="3.9" fill="#0a870a"/>
<rect x="62.30" y="424.4" width="1" height="1.9" fill="#0a870a"/>
<rect x="66.19" y="424.4" width="1" height="1.3" fill="#0a870a"/>
<rect x="70.07" y="424.4" width="1" height="4.6" fill="#0a870a"/>
<rect x="73.96" y="424.4" width="1" height="5.2" fill="#0a870a"/>
<rect x="77.85" y="424.4" width="1" height="7.1" fill="#0a870a"/>
<rect x="81.73" y="424.4" width="1" height="8.2" fill="#0a870a"/>
<rect x="85.62" y="424.4" width="1" height="10.1" fill="#0a870a"/>
<rect x="89.51" y="424.4" width="1" height="11.1" fill="#0a870a"/>
<rect x="93.39" y="424.4" width="1" height="12.0" fill="#0a870a"/>
<rect x="97.28" y="424.4" width="1" height="11.3" fill="#0a870a"/>
<rect x="101.17" y="424.4" width="1" height="8.0" fill="#0a870a"/>
<rect x="105.05" y="424.4" width="1" height="6.7" fill="#0a870a"/>
<rect x="108.94" y="424.4" width="1" height="5.4" fill="#0a870a"/>
<rect x="112.83" y="423.9" width="1" height="1" fill="#0a870a"/>
<rect x="116.71" y="422.1" width="1" height="2.3" fill="#0a870a"/>
<rect x="120.60" y="419.9" width="1" height="4.5" fill="#0a870a"/>
<rect x="124.49" y="419.0" width="1" height="5.4" fill="#0a870a"/>
<rect x="128.37" y="419.9" width="1" height="4.5" fill="#0a870a"/>
<rect x="132.26" y="419.9" width="1" height="4.5" fill="#0a870a"/>
<rect x="136.15" y="419.0" width="1" height="5.4" fill="#0a870a"/>
<rect x="140.03" y="417.9" width="1" height="6.5" fill="#0a870a"/>
<rect x="143.92" y="417.9" width="1" height="6.5" fill="#0a870a"/>
<rect x="147.81" y="417.9" width="1" height="6.5" fill="#0a870a"/>
<rect x="151.69" y="419.0" width="1" height="5.4" fill="#0a870a"/>
<rect x="155.58" y="421.2" width="1" height="3.2" fill="#0a870a"/>
<rect x="159.47" y="419.1" width="1" height="5.3" fill="#0a870a"/>
<rect x="163.35" y="418.2" width="1" height="6.2" fill="#0a870a"/>
<rect x="167.24" y="418.2" width="1" height="6.2" fill="#0a870a"/>
<rect x="171.13" y="419.3" width="1" height="5.1" fill="#0a870a"/>
<rect x="175.01" y="420.2" width="1" height="4.2" fill="#0a870a"/>
<rect x="178.90" y="420.2" width="1" height="4.2" fill="#0a870a"/>
<rect x="182.79" y="417.1" width="1" height="7.3" fill="#0a870a"/>
<rect x="186.67" y="415.3" width="1" height="9.1" fill="#0a870a"/>
<rect x="190.56" y="414.2" width="1" height="10.2" fill="#0a870a"/>
<rect x="194.45" y="414.2" width="1" height="10.2" fill="#0a870a"/>
<rect x="198.33" y="416.2" width="1" height="8.2" fill="#0a870a"/>
<rect x="202.22" y="418.2" width="1" height="6.2" fill="#0a870a"/>
<rect x="206.11" y="418.2" width="1" height="6.2" fill="#0a870a"/>
<rect x="210.00" y="418.9" width="1" height="5.5" fill="#0a870a"/>
<rect x="213.88" y="418.2" width="1" height="6.2" fill="#0a870a"/>
<rect x="217.77" y="418.2" width="1" height="6.2" fill="#0a870a"/>
<rect x="221.66" y="418.2" width="1" height="6.2" fill="#0a870a"/>
<rect x="225.54" y="416.9" width="1" height="7.5" fill="#0a870a"/>
<rect x="229.43" y="412.3" width="1" height="12.1" fill="#0a870a"/>
<rect x="233.32" y="409.2" width="1" height="15.2" fill="#0a870a"/>
<rect x="237.20" y="409.0" width="1" height="15.4" fill="#0a870a"/>
<rect x="241.09" y="409.2" width="1" height="15.2" fill="#0a870a"/>
<rect x="244.98" y="410.2" width="1" height="14.2" fill="#0a870a"/>
<rect x="248.86" y="413.0" width="1" height="11.4" fill="#0a870a"/>
<rect x="252.75" y="413.2" width="1" height="11.2" fill="#0a870a"/>
<rect x="256.64" y="413.2" width="1" height="11.2" fill="#0a870a"/>
<rect x="260.52" y="414.2" width="1" height="10.2" fill="#0a870a"/>
<rect x="264.41" y="416.2" width="1" height="8.2" fill="#0a870a"/>
<rect x="268.30" y="417.1" width="1" height="7.3" fill="#0a870a"/>
<rect x="272.18" y="418.2" width="1" height="6.2" fill="#0a870a"/>
<rect x="276.07" y="419.3" width="1" height="5.1" fill="#0a870a"/>
<rect x="279.96" y="420.2" width="1" height="4.2" fill="#0a870a"/>
<rect x="283.84" y="422.2" width="1" height="2.2" fill="#0a870a"/>
<rect x="287.73" y="423.9" width="1" height="1" fill="#0a870a"/>
<rect x="291.62" y="423.9" width="1" height="1" fill="#0a870a"/>
<rect x="295.50" y="423.9" width="1" height="1" fill="#0a870a"/>
<rect x="299.39" y="424.4" width="1" height="2.4" fill="#0a870a"/>
<rect x="303.28" y="424.4" width="1" height="6.3" fill="#0a870a"/>
<rect x="307.16" y="424.4" width="1" height="8.3" fill="#0a870a"/>
<rect x="311.05" y="424.4" width="1" height="9.0" fill="#0a870a"/>
<rect x="314.94" y="424.4" width="1" height="10.3" fill="#0a870a"/>
<rect x="318.82" y="424.4" width="1" height="9.6" fill="#0a870a"/>
<rect x="322.71" y="424.4" width="1" height="8.3" fill="#0a870a"/>
<rect x="326.60" y="424.4" width="1" height="7.0" fill="#0a870a"/>
<rect x="330.48" y="424.4" width="1" height="6.4" fill="#0a870a"/>
<rect x="334.37" y="424.4" width="1" height="6.4" fill="#0a870a"/>
<rect x="338.26" y="424.4" width="1" height="5.1" fill="#0a870a"/>
<rect x="342.14" y="424.4" width="1" height="7.1" fill="#0a870a"/>
<rect x="346.03" y="424.4" width="1" height="12.4" fill="#0a870a"/>
<rect x="349.92" y="424.4" width="1" height="15.0" fill="#0a870a"/>
<rect x="353.80" y="424.4" width="1" height="16.3" fill="#0a870a"/>
<rect x="357.69" y="424.4" width="1" height="15.0" fill="#0a870a"/>
<rect x="361.58" y="424.4" width="1" height="12.4" fill="#0a870a"/>
<rect x="365.46" y="424.4" width="1" height="11.0" fill="#0a870a"/>
<rect x="369.35" y="424.4" width="1" height="9.1" fill="#0a870a"/>
<rect x="373.24" y="424.4" width="1" height="7.1" fill="#0a870a"/>
<rect x="377.12" y="424.4" width="1" height="5.1" fill="#0a870a"/>
<rect x="381.01" y="424.4" width="1" height="3.1" fill="#0a870a"/>
<rect x="384.90" y="424.4" width="1" height="1.1" fill="#0a870a"/>
<rect x="388.78" y="423.9" width="1" height="1" fill="#0a870a"/>
<rect x="392.67" y="418.3" width="1" height="6.1" fill="#0a870a"/>
<rect x="396.56" y="414.3" width="1" height="10.1" fill="#0a870a"/>
<rect x="400.44" y="412.3" width="1" height="12.1" fill="#0a870a"/>
<rect x="404.33" y="412.0" width="1" height="12.4" fill="#0a870a"/>
<rect x="408.22" y="413.1" width="1" height="11.3" fill="#0a870a"/>
<rect x="412.10" y="414.9" width="1" height="9.5" fill="#0a870a"/>
<rect x="415.99" y="414.0" width="1" height="10.4" fill="#0a870a"/>
<rect x="419.88" y="414.9" width="1" height="9.5" fill="#0a870a"/>
<rect x="423.76" y="415.8" width="1" height="8.6" fill="#0a870a"/>
<rect x="427.65" y="413.2" width="1" height="11.2" fill="#0a870a"/>
<rect x="431.54" y="413.2" width="1" height="11.2" fill="#0a870a"/>
<rect x="435.42" y="414.9" width="1" height="9.5" fill="#0a870a"/>
<rect x="439.31" y="414.9" width="1" height="9.5" fill="#0a870a"/>
<rect x="443.20" y="414.0" width="1" height="10.4" fill="#0a870a"/>
<rect x="447.08" y="414.0" width="1" height="10.4" fill="#0a870a"/>
<rect x="450.97" y="414.9" width="1" height="9.5" fill="#0a870a"/>
<rect x="454.86" y="415.8" width="1" height="8.6" fill="#0a870a"/>
<rect x="458.74" y="415.8" width="1" height="8.6" fill="#0a870a"/>
<rect x="462.63" y="418.9" width="1" height="5.5" fill="#0a870a"/>
<rect x="466.52" y="423.9" width="1" height="1" fill="#0a870a"/>
<rect x="470.40" y="423.9" width="1" height="1" fill="#0a870a"/>
<rect x="474.29" y="424.4" width="1" height="4.3" fill="#0a870a"/>
<rect x="478.18" y="424.4" width="1" height="7.0" fill="#0a870a"/>
<rect x="482.06" y="424.4" width="1" height="9.2" fill="#0a870a"/>
<rect x="485.95" y="424.4" width="1" height="13.2" fill="#0a870a"/>
<rect x="489.84" y="424.4" width="1" height="16.0" fill="#0a870a"/>
<rect x="493.72" y="424.4" width="1" height="17.7" fill="#0a870a"/>
<rect x="497.61" y="424.4" width="1" height="17.1" fill="#0a870a"/>
<rect x="501.50" y="424.4" width="1" height="16.0" fill="#0a870a"/>
<rect x="505.38" y="424.4" width="1" height="14.9" fill="#0a870a"/>
<rect x="509.27" y="424.4" width="1" height="13.8" fill="#0a870a"/>
<rect x="513.16" y="424.4" width="1" height="13.8" fill="#0a870a"/>
<rect x="517.04" y="424.4" width="1" height="12.6" fill="#0a870a"/>
<rect x="520.93" y="424.4" width="1" height="9.8" fill="#0a870a"/>
<polyline points="3.9,415.7 10.3,416.5 16.7,418.0 21.9,421.2 27.0,424.4 32.1,427.0 37.3,429.6 42.4,431.5 47.6,433.7 51.4,436.2 56.6,438.3 61.7,439.8 66.8,441.1 72.0,443.1 77.1,445.0 80.0,445.6 85.3,450.3 90.6,454.9 95.8,458.8 101.1,462.1 106.4,465.2 111.7,465.4 117.0,464.1 122.2,462.8 127.5,461.5 132.8,459.5 138.1,456.9 143.4,454.9 148.6,452.9 153.9,451.6 159.2,449.6 164.5,447.2 169.8,445.4 174.1,444.3 180.6,442.4 185.7,439.1 192.1,435.3 198.6,431.4 203.7,428.9 209.5,426.3 212.8,425.5 218.1,422.8 223.4,419.8 228.6,416.2 233.9,411.6 239.2,407.0 244.5,402.4 250.6,397.1 255.8,393.1 261.1,389.8 266.4,386.5 271.7,383.9 278.3,381.0 284.9,379.9 291.5,378.9 296.8,378.9 302.0,381.2 307.3,384.5 313.9,388.5 319.2,391.8 324.5,394.2 328.4,396.0 333.2,398.5 339.8,401.8 345.1,406.4 350.4,411.7 355.6,416.3 360.9,421.6 366.2,425.5 371.5,428.2 376.8,430.8 383.4,432.1 390.0,431.5 395.2,428.8 400.5,425.0 406.6,419.5 413.2,414.9 419.8,410.3 426.4,406.3 431.7,403.4 437.0,399.7 442.2,396.0 447.5,392.5 454.1,389.2 459.4,386.3 464.7,384.5 470.0,384.5 473.9,385.2 479.2,388.5 484.5,392.5 489.0,397.3 494.6,402.9 499.1,408.5 504.7,414.6 510.3,419.7 515.9,424.2 518.5,426.5" fill="none" stroke="#ff2020" stroke-width="1.1" stroke-dasharray="3,2.5"/>
<polyline points="3.9,416.0 9.0,417.4 12.9,419.3 16.7,423.1 20.6,427.6 24.4,430.2 28.3,432.8 32.1,435.3 34.7,434.0 37.9,434.4 41.1,437.3 45.0,441.1 48.8,443.4 54.0,445.0 57.8,444.3 61.7,443.4 65.6,443.4 69.4,446.3 73.3,449.5 80.0,454.9 84.0,458.8 87.9,463.5 91.9,467.4 95.8,470.7 99.8,470.5 103.1,471.0 106.4,472.3 110.4,470.7 114.3,466.1 119.6,461.5 124.9,457.5 128.8,455.5 132.8,455.5 138.1,452.2 143.4,448.9 148.6,447.0 155.2,447.0 160.5,443.5 166.4,440.2 172.9,440.2 176.7,438.9 179.9,437.9 183.1,434.0 187.0,429.5 191.5,425.0 193.0,423.5 197.0,421.5 200.9,421.9 204.9,421.9 210.2,420.2 215.4,418.2 220.7,415.6 224.7,412.9 228.6,406.3 232.6,399.7 236.6,394.4 240.5,390.0 244.0,387.2 247.9,386.8 251.9,384.5 255.8,381.9 259.8,379.3 263.8,377.9 269.0,377.5 274.3,376.0 279.6,375.7 283.6,376.2 287.5,377.5 292.8,377.9 296.8,379.3 300.7,385.2 306.0,391.8 311.3,396.4 316.6,399.7 321.8,402.6 327.1,404.3 331.9,404.4 337.2,406.4 341.1,409.0 345.1,415.6 349.0,423.6 353.0,430.2 357.0,434.1 360.9,436.5 366.2,436.5 370.2,437.2 374.1,438.1 379.4,436.8 384.7,434.8 388.6,432.8 391.3,430.2 393.9,423.6 397.9,415.6 401.8,411.2 404.0,409.6 407.9,407.4 411.9,406.1 415.8,403.7 419.8,401.3 423.8,400.4 427.7,395.8 431.7,392.1 435.6,390.2 439.6,388.5 443.6,384.9 446.2,382.6 450.2,381.5 454.1,380.6 458.1,378.3 460.1,377.9 463.4,379.3 467.3,382.3 471.3,385.2 475.2,390.5 479.2,396.0 483.4,401.4 486.8,407.9 490.2,414.1 494.6,420.2 498.0,424.7 502.5,428.6 507.0,431.4 511.4,434.2 514.8,437.6 518.2,440.2 520.4,439.3" fill="none" stroke="#2828ff" stroke-width="1.2" stroke-linejoin="round"/>
</g>
<text x="8" y="382.5" font-size="10" fill="#000" stroke="#000" stroke-width="0.22" textLength="163" lengthAdjust="spacingAndGlyphs">MACD(12,26,9) -0.0688 -0.0208 -0.0480</text>
<text x="664.5" y="380.6" font-size="10" fill="#000" stroke="#000" stroke-width="0.22" textLength="30" lengthAdjust="spacingAndGlyphs">0.2374</text>
<text x="664.5" y="428.4" font-size="10" fill="#000" stroke="#000" stroke-width="0.22" textLength="17" lengthAdjust="spacingAndGlyphs">0.00</text>
<text x="664.5" y="474.3" font-size="10" fill="#000" stroke="#000" stroke-width="0.22" textLength="25.5" lengthAdjust="spacingAndGlyphs">-0.239</text>
<rect x="659" y="424.3" width="3" height="1" fill="#000"/>
<rect x="3.50" y="477" width="1" height="3.5" fill="#000"/>
<text x="3.00" y="489.8" font-size="10" fill="#000" stroke="#000" stroke-width="0.22" textLength="44" lengthAdjust="spacingAndGlyphs">23 Jul 2021</text>
<rect x="65.75" y="477" width="1" height="3.5" fill="#000"/>
<text x="65.25" y="489.8" font-size="10" fill="#000" stroke="#000" stroke-width="0.22" textLength="47" lengthAdjust="spacingAndGlyphs">28 Jul 12:01</text>
<rect x="128.25" y="477" width="1" height="3.5" fill="#000"/>
<text x="127.75" y="489.8" font-size="10" fill="#000" stroke="#000" stroke-width="0.22" textLength="43" lengthAdjust="spacingAndGlyphs">2 Aug 04:01</text>
<rect x="190.75" y="477" width="1" height="3.5" fill="#000"/>
<text x="190.25" y="489.8" font-size="10" fill="#000" stroke="#000" stroke-width="0.22" textLength="43" lengthAdjust="spacingAndGlyphs">4 Aug 20:01</text>
<rect x="252.50" y="477" width="1" height="3.5" fill="#000"/>
<text x="252.00" y="489.8" font-size="10" fill="#000" stroke="#000" stroke-width="0.22" textLength="43" lengthAdjust="spacingAndGlyphs">9 Aug 12:01</text>
<rect x="314.50" y="477" width="1" height="3.5" fill="#000"/>
<text x="314.00" y="489.8" font-size="10" fill="#000" stroke="#000" stroke-width="0.22" textLength="48" lengthAdjust="spacingAndGlyphs">12 Aug 04:01</text>
<rect x="376.50" y="477" width="1" height="3.5" fill="#000"/>
<text x="376.00" y="489.8" font-size="10" fill="#000" stroke="#000" stroke-width="0.22" textLength="48" lengthAdjust="spacingAndGlyphs">16 Aug 20:01</text>
<rect x="439.00" y="477" width="1" height="3.5" fill="#000"/>
<text x="438.50" y="489.8" font-size="10" fill="#000" stroke="#000" stroke-width="0.22" textLength="48" lengthAdjust="spacingAndGlyphs">19 Aug 12:01</text>
<rect x="501.00" y="477" width="1" height="3.5" fill="#000"/>
<text x="500.50" y="489.8" font-size="10" fill="#000" stroke="#000" stroke-width="0.22" textLength="48" lengthAdjust="spacingAndGlyphs">24 Aug 04:01</text>
</svg></body></html>
